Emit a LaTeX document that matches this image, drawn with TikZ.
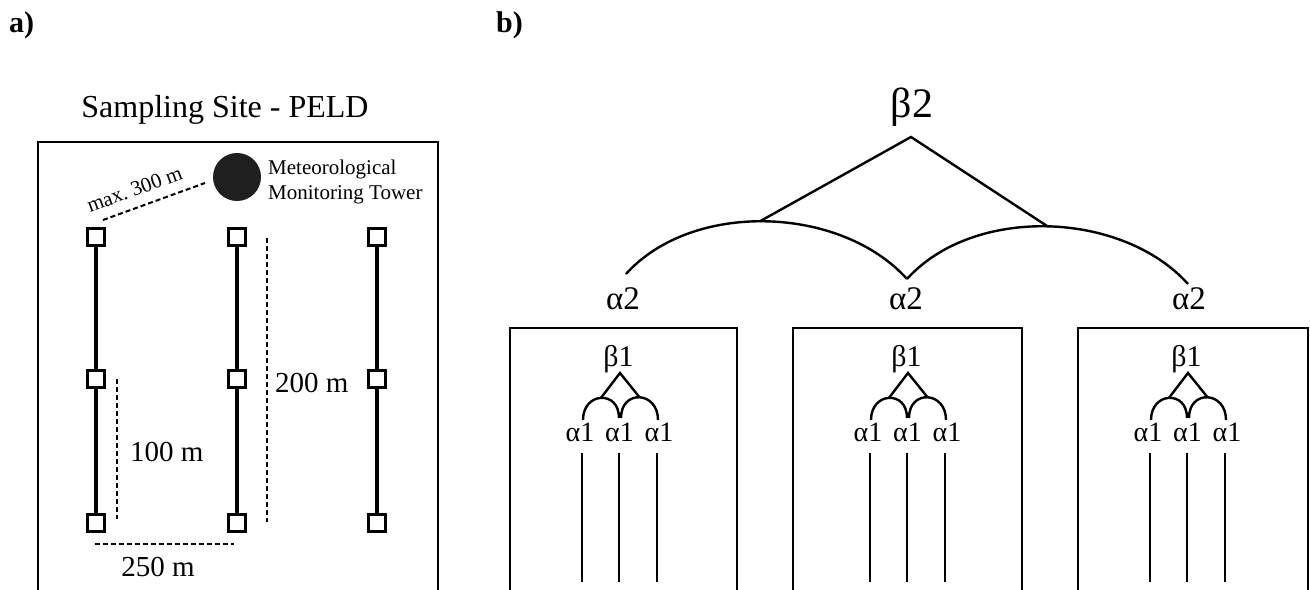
\documentclass[tikz,border=0pt]{standalone}
\usepackage{fontspec}
\setmainfont{Liberation Serif}
\newcommand\fsz[1]{\fontsize{#1bp}{#1bp}\selectfont}
\tikzset{
  frame/.style={line width=2.2bp},
  transect/.style={line width=3.5bp},
  plotsq/.style={draw, line width=2.6bp, fill=white, minimum size=17bp, inner sep=0pt},
  dimline/.style={line width=2bp, dash pattern=on 5bp off 3bp},
  treeline/.style={line width=2.4bp},
  lbl/.style={inner sep=0pt, anchor=base},
}
\begin{document}
\begin{tikzpicture}[x=1bp, y=1bp]
\clip (0,0) rectangle (1310,590);
\fill[white] (0,0) rectangle (1310,590);

% panel labels
\node[lbl, anchor=base west, font=\bfseries\fsz{30}] (pa) at (9,557) {a)};
\node[lbl, anchor=base west, font=\bfseries\fsz{30}] (pb) at (496,557) {b)};

% ---------------- a) sampling site ----------------
\node[lbl, font=\fsz{32}] (title) at (225,472) {Sampling Site - PELD};
\draw[frame] (38,-5) |- (438,448) -- (438,-5);

\node[circle, fill=black!88, minimum size=48bp, inner sep=0pt] (tower) at (237,413) {};
\node[lbl, anchor=base west, font=\fsz{21}] (tw1) at (268,415) {Meteorological};
\node[lbl, anchor=base west, font=\fsz{21}] (tw2) at (268,390) {Monitoring Tower};

% plots (column 1..3, rows a..c from top)
\foreach \c/\x in {1/96, 2/237, 3/377}{
  \node[plotsq] (p\c a) at (\x,353) {};
  \node[plotsq] (p\c b) at (\x,211) {};
  \node[plotsq] (p\c c) at (\x,67) {};
  \draw[transect] (p\c a) -- (p\c b) (p\c b) -- (p\c c);
}

% distances
\coordinate (mA) at (103,370);
\coordinate (mB) at (205,407);
\draw[dimline] (mA) -- (mB)
  node[lbl, anchor=center, pos=0.37, above=10bp, sloped, font=\fsz{21}] (mlbl) {max.~300~m};

\coordinate (d1a) at (117,211);
\coordinate (d1b) at (117,71);
\draw[dimline] (d1a) -- (d1b);
\node[lbl, anchor=base west, font=\fsz{29}] (l100) at (130,128) {100 m};

\coordinate (d2a) at (267,352);
\coordinate (d2b) at (267,68);
\draw[dimline] (d2a) -- (d2b);
\node[lbl, anchor=base west, font=\fsz{29}] (l200) at (275,197) {200 m};

\coordinate (d3a) at (95,46);
\coordinate (d3b) at (234,46);
\draw[dimline] (d3a) -- (d3b);
\node[lbl, font=\fsz{29}] (l250) at (158,13) {250 m};

% ---------------- b) diversity partition ----------------
\node[lbl, font=\fsz{42}] (beta2) at (912,472) {β2};
\coordinate (apex2) at (911,453);

\node[lbl, font=\fsz{33}] (a2L) at (623,280) {α2};
\node[lbl, font=\fsz{33}] (a2M) at (906,280) {α2};
\node[lbl, font=\fsz{33}] (a2R) at (1189,280) {α2};

\coordinate (eL) at (626,316);
\coordinate (eM) at (907,311);
\coordinate (eR) at (1188,306);
\draw[treeline] (eL) to[out=48, in=132, looseness=0.9] coordinate[pos=0.48] (topL) (eM);
\draw[treeline] (eM) to[out=48, in=132, looseness=0.9] coordinate[pos=0.5] (topR) (eR);
\draw[treeline] (topL) -- (apex2) -- (topR);

% sites
\foreach \k/\l/\r/\a in {1/510/737/620, 2/793/1022/908, 3/1078/1308/1188}{
  \draw[frame] (\l,-5) |- (\r,262) -- (\r,-5);
  \node[lbl, font=\fsz{30}] (beta1\k) at (\a-1.5,223) {β1};
  \coordinate (ap\k) at (\a,217);
  \node[lbl, font=\fsz{28}] (a1\k x) at (\a-40,148) {α1};
  \node[lbl, font=\fsz{28}] (a1\k y) at (\a-0.5,148) {α1};
  \node[lbl, font=\fsz{28}] (a1\k z) at (\a+39,148) {α1};
  \coordinate (s\k a) at (\a-37,170);
  \coordinate (s\k b) at (\a-1,172);
  \coordinate (s\k c) at (\a+1,172);
  \coordinate (s\k d) at (\a+38,170);
  \draw[treeline] (s\k a) to[out=90, in=90, looseness=2] coordinate[pos=0.5] (h\k L) (s\k b);
  \draw[treeline] (s\k c) to[out=90, in=90, looseness=2] coordinate[pos=0.5] (h\k R) (s\k d);
  \draw[treeline] (h\k L) -- (ap\k) -- (h\k R);
  \draw[treeline] (\a-38,137) -- (\a-38,8);
  \draw[treeline] (\a-1,137) -- (\a-1,8);
  \draw[treeline] (\a+37,137) -- (\a+37,8);
}
\end{tikzpicture}
\end{document}
